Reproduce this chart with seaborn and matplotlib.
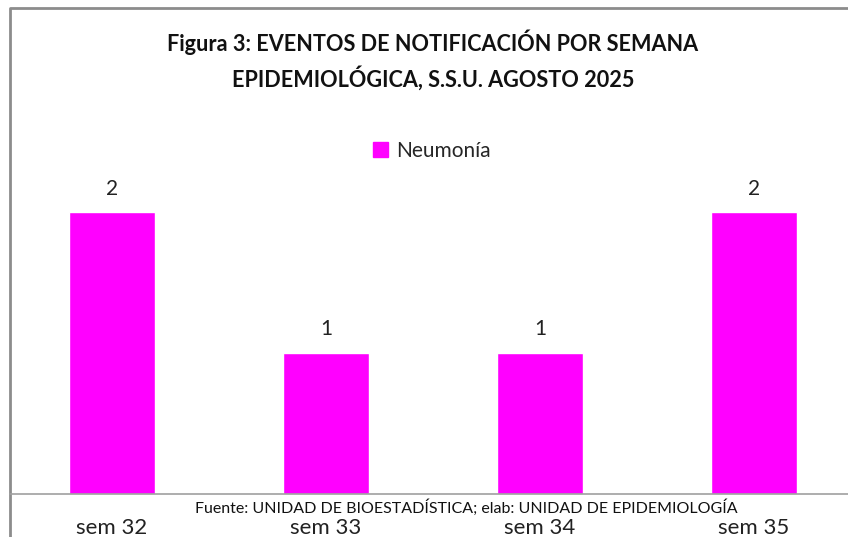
import seaborn as sns
import matplotlib.pyplot as plt
import pandas as pd
from matplotlib.lines import Line2D
from matplotlib.patches import Patch

semanas = ["sem 32", "sem 33", "sem 34", "sem 35"]
neumonia = [2, 1, 1, 2]
titulo = "Figura 3: EVENTOS DE NOTIFICACIÓN POR SEMANA\nEPIDEMIOLÓGICA, S.S.U. AGOSTO 2025"
fuente = "Fuente: UNIDAD DE BIOESTADÍSTICA; elab: UNIDAD DE EPIDEMIOLOGÍA"

df = pd.DataFrame({"semana": semanas, "casos": neumonia})

sns.set_style("white")
plt.rcParams["font.family"] = ["Lato", "DejaVu Sans"]

fig = plt.figure(figsize=(8.48, 5.37), dpi=100)
ax = fig.add_axes([5 / 848, 43 / 537, 856 / 848, 352 / 537])
sns.barplot(data=df, x="semana", y="casos", color="#FF00FF", saturation=1,
            width=0.4, ax=ax)
ax.set_xlim(-0.5, 3.5)
ax.set_ylim(0, 2.5)
ax.set_axis_off()

#value labels over the bars
for cont in ax.containers:
    ax.bar_label(cont, labels=[str(v) for v in neumonia], padding=10,
                 fontsize=15, color="#222222")

#category labels, cut at the bottom like the original
for i, s in enumerate(semanas):
    ax.text(i, -0.245, s, ha="center", va="center", fontsize=16, color="#222222",
            transform=ax.transData, clip_on=False)

#frame and axis line
fig.add_artist(Line2D([10 / 848, 10 / 848, 1], [0, 1 - 8 / 537, 1 - 8 / 537],
                      transform=fig.transFigure, color="#8c8c8c", lw=2))
fig.add_artist(Line2D([10 / 848, 1], [43 / 537, 43 / 537],
                      transform=fig.transFigure, color="#a0a0a0", lw=1.2))

fig.text(433 / 848, 1 - 60 / 537, titulo, ha="center", va="center",
         fontsize=15.6, fontweight="bold", linespacing=1.5, color="#111111")

fig.legend(handles=[Patch(color="#FF00FF", label="Neumonía")], loc="center",
           bbox_to_anchor=(432 / 848, 1 - 151 / 537), frameon=False,
           fontsize=15, handlelength=0.7, handleheight=0.7, handletextpad=0.4)

fig.text(466 / 848, 1 - 508 / 537, fuente, ha="center", va="center",
         fontsize=11.5, color="#111111")

fig.savefig("out.png", dpi=100)
